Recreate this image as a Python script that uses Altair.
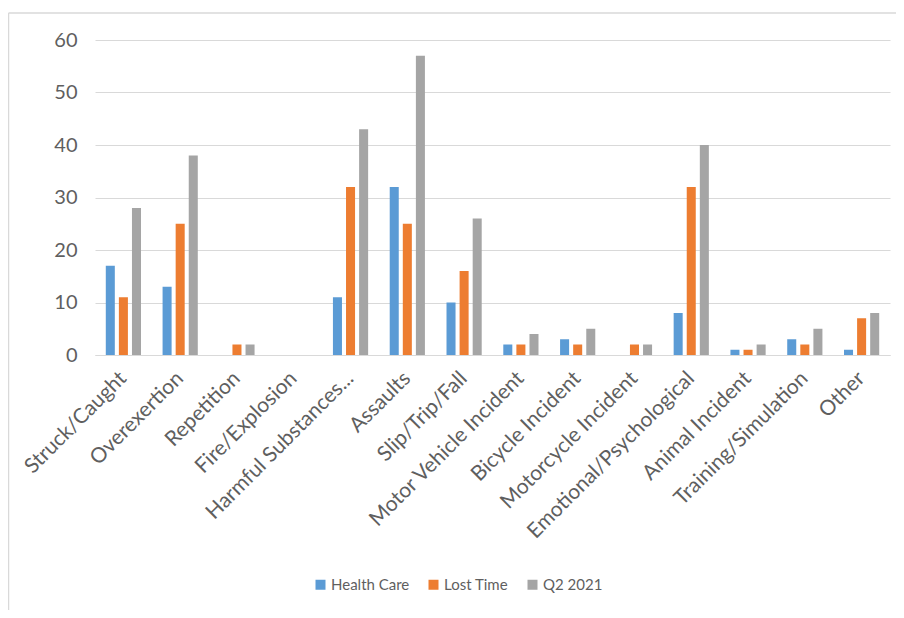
import altair as alt
import pandas as pd

categories = ["Struck/Caught", "Overexertion", "Repetition", "Fire/Explosion",
              "Harmful Substances...", "Assaults", "Slip/Trip/Fall",
              "Motor Vehicle Incident", "Bicycle Incident", "Motorcycle Incident",
              "Emotional/Psychological", "Animal Incident", "Training/Simulation", "Other"]
health_care = [17, 13, 0, 0, 11, 32, 10, 2, 3, 0, 8, 1, 3, 1]
lost_time = [11, 25, 2, 0, 32, 25, 16, 2, 2, 2, 32, 1, 2, 7]
q2_2021 = [28, 38, 2, 0, 43, 57, 26, 4, 5, 2, 40, 2, 5, 8]
series = ["Health Care", "Lost Time", "Q2 2021"]
colors = ["#5B9BD5", "#ED7D31", "#A5A5A5"]
y_ticks = [0, 10, 20, 30, 40, 50, 60]

rows = []
for i, c in enumerate(categories):
    for s, vals in zip(series, [health_care, lost_time, q2_2021]):
        rows.append({"category": c, "series": s, "value": vals[i]})
df = pd.DataFrame(rows)

FONT = "Lato"

bars = alt.Chart(df).mark_bar().encode(
    x=alt.X("category:N", sort=categories, title=None,
            scale=alt.Scale(paddingInner=0.38, paddingOuter=0.19),
            axis=alt.Axis(labelAngle=-45, labelAlign="right", labelBaseline="middle",
                          labelPadding=20, labelFontSize=21, labelColor="#5f5f5f",
                          labelFont=FONT, ticks=False, domainColor="#D9D9D9",
                          domainWidth=1, labelLimit=400)),
    xOffset=alt.XOffset("series:N", sort=series,
                        scale=alt.Scale(paddingInner=0.31, paddingOuter=0)),
    y=alt.Y("value:Q", title=None,
            scale=alt.Scale(domain=[0, 60], nice=False),
            axis=alt.Axis(values=y_ticks, domain=False, ticks=False, labelPadding=18,
                          labelFontSize=20, labelColor="#5f5f5f", labelFont=FONT,
                          gridColor="#D9D9D9", gridWidth=1)),
    color=alt.Color("series:N", sort=series,
                    scale=alt.Scale(domain=series, range=colors),
                    legend=alt.Legend(title=None, orient="none", direction="horizontal",
                                      legendX=218, legendY=537, symbolType="square",
                                      symbolSize=100, symbolStrokeWidth=0,
                                      labelFontSize=15, labelColor="#5f5f5f",
                                      labelFont=FONT, columnPadding=16,
                                      symbolOffset=0, labelOffset=3)),
)

frame_left = alt.Chart(pd.DataFrame({"k": [0]})).mark_rule(color="#D9D9D9", strokeWidth=1.5).encode(
    x=alt.value(-86.5), y=alt.value(-27), y2=alt.value(570))
frame_top = alt.Chart(pd.DataFrame({"k": [0]})).mark_rule(color="#D9D9D9", strokeWidth=1.5).encode(
    x=alt.value(-86.5), x2=alt.value(810), y=alt.value(-27))

chart = alt.layer(frame_left, frame_top, bars).properties(
    width=795, height=315,
    autosize=alt.AutoSizeParams(type="none"),
    padding={"left": 87, "top": 32, "right": 6, "bottom": 255},
).configure_view(stroke=None)

chart.save("out.html", embed_options={"renderer": "svg", "actions": False})
